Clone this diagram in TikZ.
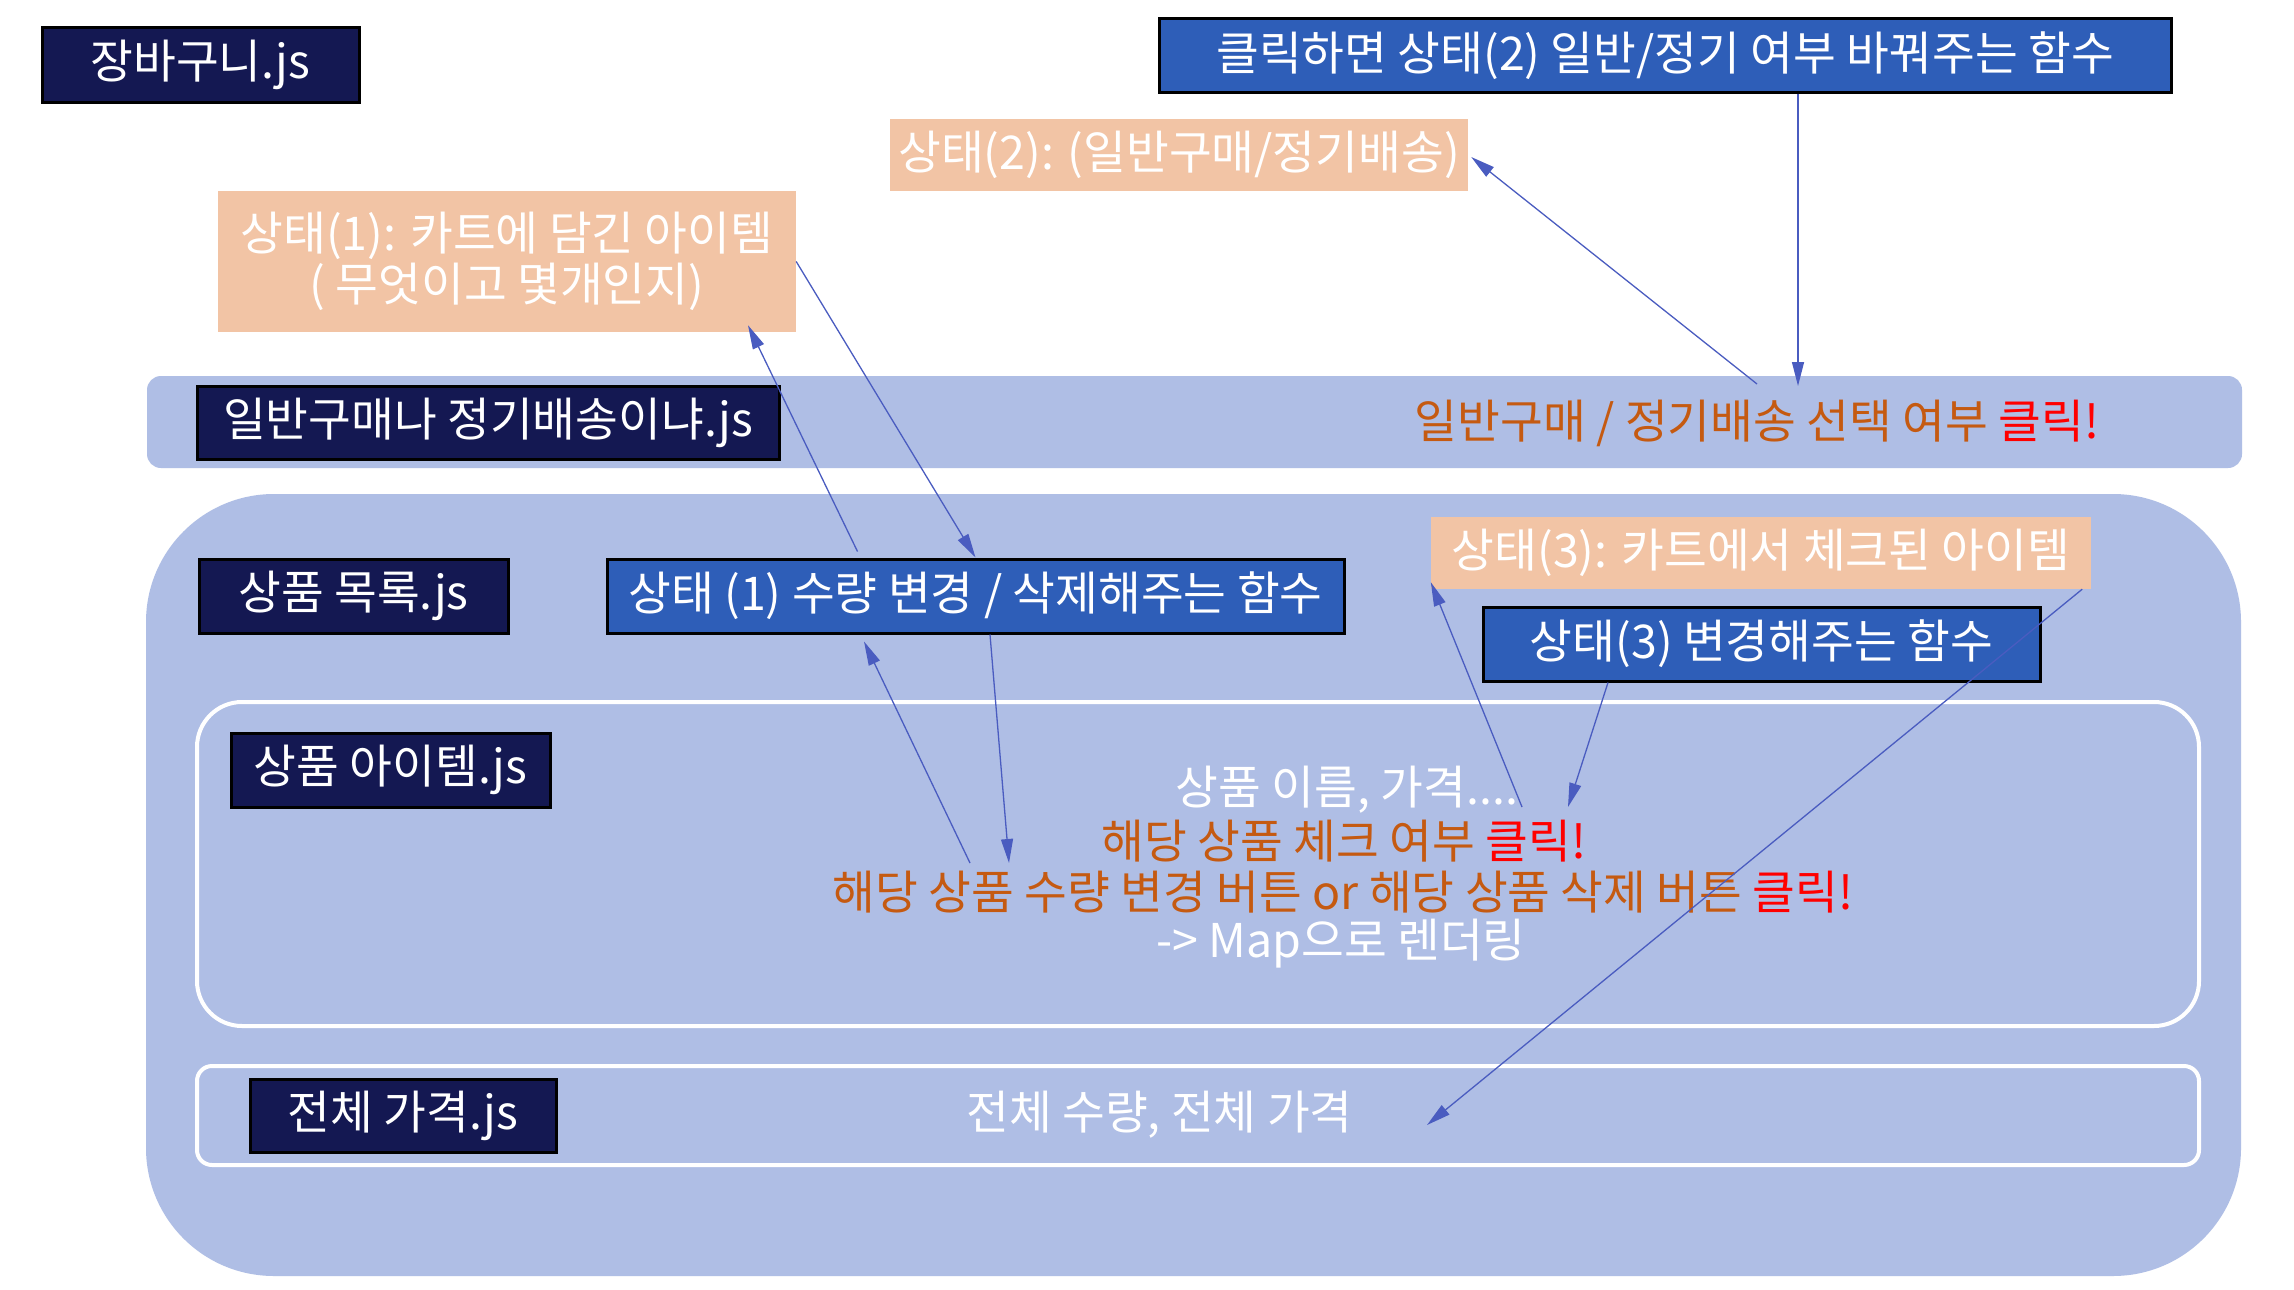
\documentclass[tikz,border=0pt]{standalone}
\usepackage{fontspec}
\setmainfont{Noto Sans CJK KR}
\usetikzlibrary{arrows.meta,calc}
\definecolor{navy}{HTML}{141852}
\definecolor{fnblue}{HTML}{2E5EB8}
\definecolor{peach}{HTML}{F2C4A5}
\definecolor{panel}{HTML}{AFBEE5}
\definecolor{brownish}{HTML}{C55A11}
\definecolor{clickred}{HTML}{FF0000}
\definecolor{arrowblue}{HTML}{4A5CC0}
\begin{document}
\begin{tikzpicture}[x=1pt,y=-1pt,
  font=\fontsize{46.5}{51}\selectfont,
  jsbox/.style={draw=black, line width=3pt, fill=navy, text=white, inner sep=0pt},
  fnbox/.style={draw=black, line width=3pt, fill=fnblue, text=white, inner sep=0pt},
  statebox/.style={fill=peach, text=white, inner sep=0pt},
  panelbox/.style={fill=panel, inner sep=0pt},
  framebox/.style={draw=white, line width=4pt, inner sep=0pt},
  whitetext/.style={text=white},
  browntext/.style={text=brownish},
  conn/.style={draw=arrowblue, line width=1.3pt, -{Triangle[length=24pt,width=12pt]}}
]
\useasboundingbox (0,0) rectangle (2294,1290);
\fill[white] (0,0) rectangle (2294,1290);

% panels
\node[panelbox, rounded corners=14pt, minimum width=2095pt, minimum height=92pt] (band) at (1194.5,422) {};
\node[panelbox, rounded corners=128pt, minimum width=2095pt, minimum height=782pt] (big) at (1193.5,885) {};
\node[framebox, rounded corners=45pt, minimum width=2002pt, minimum height=324pt] (items) at (1198,864) {};
\node[framebox, rounded corners=15pt, minimum width=2002pt, minimum height=99pt] (row) at (1198,1115.5) {};

% top
\node[jsbox, minimum width=317pt, minimum height=74pt] (cart) at (200.5,65) {장바구니.js};
\node[fnbox, minimum width=1012pt, minimum height=73pt] (fn2) at (1665,55.5) {클릭하면 상태(2) 일반/정기 여부 바꿔주는 함수};
\node[statebox, minimum width=578pt, minimum height=72pt] (st2) at (1179,155) {상태(2): (일반구매/정기배송)};
\node[statebox, minimum width=578pt, minimum height=141pt, align=center] (st1) at (507,261.5) {상태(1): 카트에 담긴 아이템\\( 무엇이고 몇개인지)};

% band
\node[jsbox, minimum width=582pt, minimum height=73pt] (purch) at (488,422.5) {일반구매나 정기배송이냐.js};
\node[browntext] (bandtxt) at (1757,423) {일반구매 / 정기배송 선택 여부 \textcolor{clickred}{클릭!}};

% list
\node[jsbox, minimum width=309pt, minimum height=74pt] (list) at (353.5,596) {상품 목록.js};
\node[fnbox, minimum width=737pt, minimum height=74pt] (fn1) at (975.5,596) {상태 (1) 수량 변경 / 삭제해주는 함수};
\node[statebox, minimum width=660pt, minimum height=72pt] (st3) at (1761,553) {상태(3): 카트에서 체크된 아이템};
\node[fnbox, minimum width=557pt, minimum height=74pt] (fn3) at (1761.5,644) {상태(3) 변경해주는 함수};

% item
\node[jsbox, minimum width=319pt, minimum height=74pt] (item) at (390.5,770) {상품 아이템.js};
\node[whitetext] (l1) at (1347,790) {상품 이름, 가격....};
\node[browntext] (l2) at (1344,841) {해당 상품 체크 여부 \textcolor{clickred}{클릭!}};
\node[browntext] (l3) at (1343,892) {해당 상품 수량 변경 버튼 or 해당 상품 삭제 버튼 \textcolor{clickred}{클릭!}};
\node[whitetext] (l4) at (1341,944) {-> Map으로 렌더링};

% total
\node[jsbox, minimum width=306pt, minimum height=73pt] (totjs) at (403,1115.5) {전체 가격.js};
\node[whitetext] (tottxt) at (1159.5,1115) {전체 수량, 전체 가격};

% free ends
\coordinate (c3) at (970,863);
\coordinate (d3) at (1009,863);
\coordinate (e0) at (1757,384);
\coordinate (f0) at (1798,386);
\coordinate (g0) at (1522,807);
\coordinate (h0) at (1568,807);
\coordinate (i0) at (1427,1125);

% connectors
\draw[conn] ([xshift=-118pt,yshift=6pt]fn1.north) -- ([xshift=241pt,yshift=7pt]st1.south);
\draw[conn] (st1.east) -- (fn1.north);
\draw[conn] (c3) -- ([xshift=-111.5pt,yshift=-7pt]fn1.south);
\draw[conn] ([xshift=14.5pt]fn1.south) -- (d3);
\draw[conn] (e0) -- ([xshift=3pt,yshift=-2pt]st2.east);
\draw[conn] ([xshift=133pt]fn2.south) -- (f0);
\draw[conn] (g0) -- ([yshift=7pt]st3.south west);
\draw[conn] ([xshift=-153.5pt]fn3.south) -- (h0);
\draw[conn] ([xshift=-9pt]st3.south east) -- (i0);
\end{tikzpicture}
\end{document}
